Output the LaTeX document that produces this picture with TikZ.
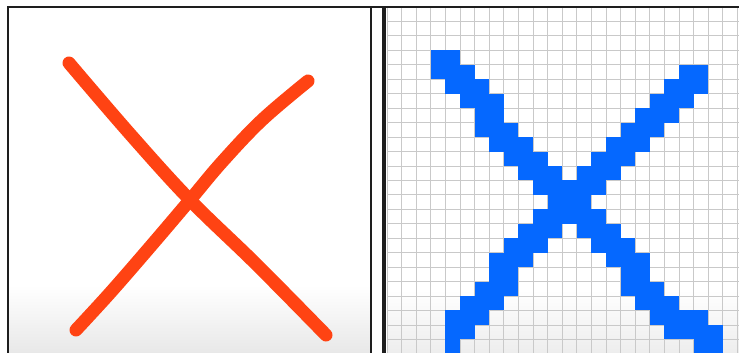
\documentclass[tikz,border=0pt]{standalone}
\usepackage{tikz}

\definecolor{penred}{HTML}{FF4313}
\definecolor{pixblue}{HTML}{0568FF}
\definecolor{gridgray}{HTML}{C9C9C9}
\definecolor{framedark}{HTML}{1E1E1E}

\begin{document}
\begin{tikzpicture}[
    x=1pt, y=-1pt,
    frame/.style={draw=framedark, line width=2.2pt},
    pen/.style={penred, line width=13pt, line cap=round, line join=round},
    pix/.style={fill=pixblue, draw=none},
    gridline/.style={gridgray, line width=0.8pt},
  ]
    \useasboundingbox (0,0) rectangle (739,353);
    \fill[white] (0,0) rectangle (739,353);

    % left panel: hand drawn X
    \shade[top color=white, bottom color=black!9] (8,285) rectangle (371,353);
    \draw[pen] plot[smooth, tension=0.6] coordinates
      {(69,63) (130,134) (190,200) (256,264) (326,335)};
    \draw[pen] plot[smooth, tension=0.6] coordinates
      {(308,81) (262,120) (222,162) (190,200) (150,247) (110,293) (76,330)};

    % right panel: pixel grid
    \shade[top color=white, bottom color=black!7] (387,290) rectangle (739,353);
    \foreach \c in {0,...,24}
      \draw[gridline] ({387+14.6*\c},7) -- ({387+14.6*\c},353);
    \foreach \r in {1,...,24}
      \draw[gridline] (387,{7+14.45*\r}) -- (739,{7+14.45*\r});

    % blue pixels: row / first column / last column
    \foreach \r/\a/\b in {
        3/3/4, 4/3/5, 5/4/6, 6/5/7, 7/6/7, 8/6/8, 9/7/9, 10/8/10, 11/9/11,
        4/20/21, 5/19/21, 6/18/20, 7/17/19, 8/16/18, 9/15/17, 10/14/16, 11/13/15,
        12/10/14, 13/11/13, 14/10/14,
        15/9/11, 16/8/10, 17/7/9, 18/7/8, 19/6/8, 20/5/7, 21/4/6, 22/4/5, 23/4/4,
        15/13/15, 16/14/16, 17/15/17, 18/16/17, 19/16/18, 20/17/19, 21/18/21, 22/19/22, 23/21/22}
      \fill[pix] ({387+14.6*\a},{7+14.45*\r}) rectangle ({387+14.6*(\b+1)},{7+14.45*(\r+1)});

    % frames
    \draw[frame] (7,7) -- (739,7);
    \draw[frame] (8,7) -- (8,353);
    \draw[frame] (371,7) -- (371,353);
    \draw[draw=framedark, line width=4pt] (384,7) -- (384,353);
  \end{tikzpicture}
\end{document}
